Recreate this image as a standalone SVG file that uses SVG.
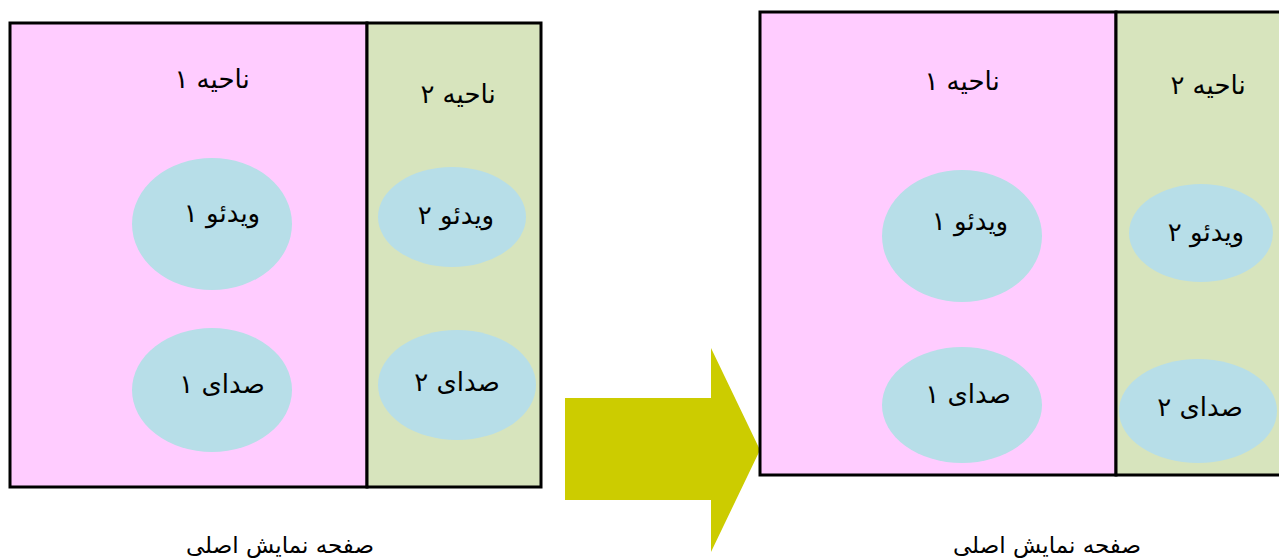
<svg xmlns="http://www.w3.org/2000/svg" width="1279" height="559" viewBox="0 0 1279 559">
<style>
.r1{fill:#FFCCFF;stroke:#000;stroke-width:3}
.r2{fill:#D7E4BD;stroke:#000;stroke-width:3}
.el{fill:#B7DEE8}
.t{font-family:"DejaVu Sans",sans-serif;font-size:26px;fill:#000;text-anchor:middle}
.b{font-family:"DejaVu Sans",sans-serif;font-size:23px;fill:#000;text-anchor:middle}
</style>
<rect width="1279" height="559" fill="#fff"/>
<g id="left">
  <g id="l-region1"><rect class="r1" x="10" y="23" width="357" height="464"/><text class="t" x="212" y="88">ناحیه ۱</text></g>
  <g id="l-region2"><rect class="r2" x="367" y="23" width="174" height="464"/><text class="t" x="458" y="103">ناحیه ۲</text></g>
  <g id="l-video1"><ellipse class="el" cx="212" cy="224" rx="80" ry="66"/><text class="t" x="222" y="222">ویدئو ۱</text></g>
  <g id="l-audio1"><ellipse class="el" cx="212" cy="390" rx="80" ry="62"/><text class="t" x="222" y="393">صدای ۱</text></g>
  <g id="l-video2"><ellipse class="el" cx="452" cy="217" rx="74" ry="50"/><text class="t" x="456" y="224">ویدئو ۲</text></g>
  <g id="l-audio2"><ellipse class="el" cx="457" cy="385" rx="79" ry="55"/><text class="t" x="457" y="391">صدای ۲</text></g>
  <text class="b" x="280" y="553">صفحه نمایش اصلی</text>
</g>
<g id="connectors">
  <polygon points="565,398 711,398 711,348 760,450 711,552 711,500 565,500" fill="#CCCC00"/>
</g>
<g id="right">
  <g id="r-region1"><rect class="r1" x="760" y="12" width="356" height="463"/><text class="t" x="962" y="90">ناحیه ۱</text></g>
  <g id="r-region2"><rect class="r2" x="1116" y="12" width="170" height="463"/><text class="t" x="1208" y="94">ناحیه ۲</text></g>
  <g id="r-video1"><ellipse class="el" cx="962" cy="236" rx="80" ry="66"/><text class="t" x="970" y="230">ویدئو ۱</text></g>
  <g id="r-audio1"><ellipse class="el" cx="962" cy="405" rx="80" ry="58"/><text class="t" x="968" y="403">صدای ۱</text></g>
  <g id="r-video2"><ellipse class="el" cx="1201" cy="233" rx="72" ry="49"/><text class="t" x="1206" y="241">ویدئو ۲</text></g>
  <g id="r-audio2"><ellipse class="el" cx="1198" cy="411" rx="79" ry="52"/><text class="t" x="1200" y="416">صدای ۲</text></g>
  <text class="b" x="1047" y="553">صفحه نمایش اصلی</text>
</g>
</svg>
